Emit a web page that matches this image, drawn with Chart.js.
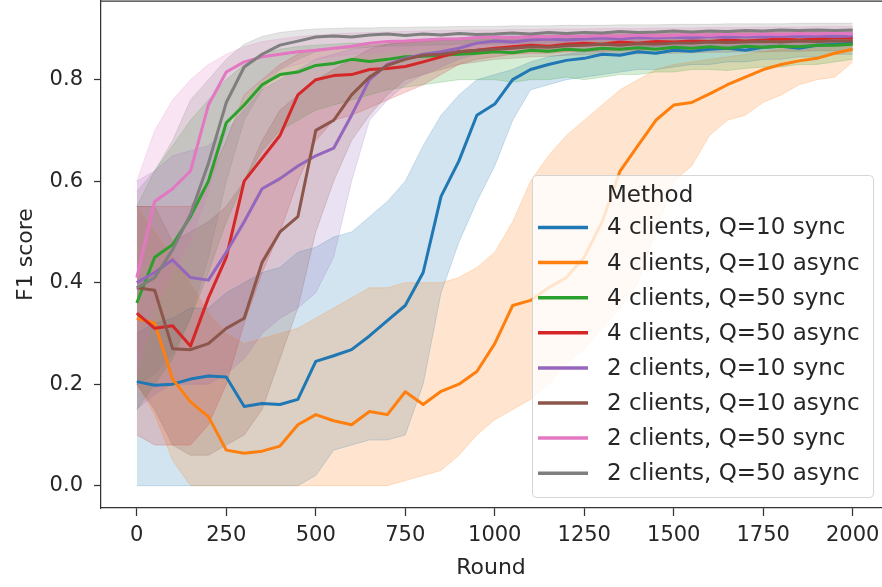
<!DOCTYPE html>
<html>
<head>
<meta charset="utf-8">
<script src="https://cdn.jsdelivr.net/npm/chart.js@4.4.1/dist/chart.umd.min.js"></script>
<style>
  html, body { margin: 0; padding: 0; background: #fff; overflow: hidden; }
  canvas { display: block; }
</style>
</head>
<body>
<canvas id="chart" width="882" height="587"></canvas>
<script>
// x positions (training round) of every sample
const rounds = [0, 50, 100, 150, 200, 250, 300, 350, 400, 450,
  500, 550, 600, 650, 700, 750, 800, 850, 900, 950,
  1000, 1050, 1100, 1150, 1200, 1250, 1300, 1350, 1400, 1450,
  1500, 1550, 1600, 1650, 1700, 1750, 1800, 1850, 1900, 1950,
  2000];

const xTicks = [0, 250, 500, 750, 1000, 1250, 1500, 1750, 2000];
const yTicks = [0.0, 0.2, 0.4, 0.6, 0.8];

const legendTitle = "Method";
const seriesNames = [
  "4 clients, Q=10 sync", "4 clients, Q=10 async",
  "4 clients, Q=50 sync", "4 clients, Q=50 async",
  "2 clients, Q=10 sync", "2 clients, Q=10 async",
  "2 clients, Q=50 sync", "2 clients, Q=50 async"
];

// 4 clients, Q=10 sync
const blueMean = [0.205, 0.198, 0.200, 0.210, 0.216, 0.214, 0.156, 0.162, 0.160, 0.170,
  0.245, 0.256, 0.268, 0.295, 0.325, 0.355, 0.420, 0.570, 0.640, 0.730,
  0.752, 0.800, 0.820, 0.830, 0.838, 0.842, 0.850, 0.848, 0.855, 0.852,
  0.858, 0.856, 0.860, 0.862, 0.858, 0.864, 0.866, 0.862, 0.868, 0.870, 0.872];
const blueLow = [0.000, 0.000, 0.000, 0.000, 0.000, 0.000, 0.000, 0.000, 0.000, 0.000,
  0.020, 0.070, 0.080, 0.090, 0.090, 0.100, 0.200, 0.380, 0.480, 0.560,
  0.630, 0.720, 0.780, 0.790, 0.800, 0.805, 0.810, 0.815, 0.820, 0.820,
  0.825, 0.830, 0.830, 0.835, 0.835, 0.840, 0.840, 0.845, 0.845, 0.850, 0.850];
const blueHigh = [0.300, 0.320, 0.330, 0.350, 0.350, 0.380, 0.400, 0.420, 0.430, 0.460,
  0.470, 0.490, 0.500, 0.530, 0.560, 0.600, 0.670, 0.730, 0.770, 0.800,
  0.810, 0.820, 0.835, 0.845, 0.850, 0.855, 0.860, 0.862, 0.865, 0.866,
  0.868, 0.870, 0.872, 0.874, 0.875, 0.876, 0.878, 0.879, 0.880, 0.882, 0.884];

// 4 clients, Q=10 async
const orangeMean = [0.330, 0.320, 0.210, 0.165, 0.136, 0.070, 0.064, 0.068, 0.078, 0.120,
  0.140, 0.128, 0.120, 0.146, 0.140, 0.185, 0.160, 0.186, 0.200, 0.225,
  0.280, 0.355, 0.365, 0.390, 0.410, 0.450, 0.520, 0.620, 0.670, 0.720,
  0.750, 0.755, 0.772, 0.790, 0.805, 0.820, 0.830, 0.837, 0.842, 0.852, 0.860];
const orangeLow = [0.200, 0.140, 0.050, 0.000, 0.000, 0.000, 0.000, 0.000, 0.000, 0.000,
  0.000, 0.000, 0.000, 0.000, 0.000, 0.010, 0.020, 0.030, 0.060, 0.100,
  0.130, 0.150, 0.170, 0.200, 0.240, 0.270, 0.310, 0.350, 0.400, 0.500,
  0.600, 0.630, 0.690, 0.720, 0.730, 0.755, 0.770, 0.790, 0.800, 0.805, 0.835];
const orangeHigh = [0.550, 0.500, 0.450, 0.400, 0.340, 0.300, 0.280, 0.290, 0.300, 0.310,
  0.330, 0.350, 0.370, 0.390, 0.390, 0.400, 0.400, 0.400, 0.410, 0.430,
  0.460, 0.520, 0.600, 0.650, 0.690, 0.720, 0.750, 0.780, 0.800, 0.820,
  0.830, 0.835, 0.840, 0.845, 0.850, 0.855, 0.860, 0.862, 0.865, 0.870, 0.875];

// 4 clients, Q=50 sync
const greenMean = [0.360, 0.450, 0.475, 0.530, 0.600, 0.715, 0.750, 0.790, 0.810, 0.815,
  0.828, 0.832, 0.840, 0.836, 0.840, 0.845, 0.846, 0.848, 0.850, 0.852,
  0.855, 0.853, 0.858, 0.856, 0.860, 0.858, 0.862, 0.860, 0.863, 0.860,
  0.864, 0.862, 0.865, 0.862, 0.866, 0.864, 0.866, 0.865, 0.868, 0.868, 0.870];
const greenLow = [0.150, 0.200, 0.250, 0.330, 0.420, 0.520, 0.600, 0.660, 0.700, 0.720,
  0.740, 0.750, 0.760, 0.770, 0.780, 0.785, 0.790, 0.795, 0.800, 0.800,
  0.800, 0.795, 0.800, 0.800, 0.805, 0.800, 0.805, 0.810, 0.810, 0.815,
  0.815, 0.820, 0.820, 0.818, 0.822, 0.825, 0.825, 0.830, 0.830, 0.835, 0.840];
const greenHigh = [0.550, 0.620, 0.670, 0.720, 0.760, 0.800, 0.830, 0.850, 0.860, 0.865,
  0.868, 0.870, 0.872, 0.872, 0.874, 0.875, 0.876, 0.877, 0.878, 0.878,
  0.880, 0.880, 0.881, 0.882, 0.882, 0.883, 0.883, 0.884, 0.884, 0.885,
  0.885, 0.886, 0.886, 0.887, 0.887, 0.888, 0.888, 0.888, 0.889, 0.889, 0.890];

// 4 clients, Q=50 async
const redMean = [0.340, 0.310, 0.315, 0.275, 0.370, 0.450, 0.600, 0.645, 0.690, 0.770,
  0.800, 0.808, 0.810, 0.820, 0.822, 0.826, 0.835, 0.845, 0.855, 0.858,
  0.862, 0.865, 0.868, 0.866, 0.870, 0.872, 0.870, 0.874, 0.872, 0.875,
  0.874, 0.876, 0.875, 0.878, 0.876, 0.878, 0.880, 0.878, 0.880, 0.882, 0.882];
const redLow = [0.100, 0.080, 0.080, 0.080, 0.120, 0.200, 0.320, 0.420, 0.500, 0.600,
  0.680, 0.720, 0.730, 0.745, 0.760, 0.775, 0.790, 0.810, 0.830, 0.840,
  0.845, 0.850, 0.852, 0.852, 0.855, 0.856, 0.856, 0.858, 0.858, 0.860,
  0.860, 0.861, 0.862, 0.862, 0.863, 0.864, 0.864, 0.865, 0.866, 0.866, 0.867];
const redHigh = [0.550, 0.550, 0.550, 0.550, 0.600, 0.680, 0.770, 0.800, 0.830, 0.850,
  0.860, 0.862, 0.865, 0.868, 0.870, 0.872, 0.875, 0.878, 0.880, 0.882,
  0.884, 0.885, 0.886, 0.887, 0.888, 0.888, 0.889, 0.890, 0.890, 0.891,
  0.891, 0.892, 0.892, 0.893, 0.893, 0.894, 0.894, 0.895, 0.895, 0.896, 0.896];

// 2 clients, Q=10 sync
const purpleMean = [0.400, 0.420, 0.445, 0.410, 0.405, 0.460, 0.520, 0.585, 0.605, 0.630,
  0.650, 0.665, 0.730, 0.800, 0.830, 0.842, 0.850, 0.855, 0.862, 0.872,
  0.876, 0.874, 0.878, 0.880, 0.878, 0.880, 0.882, 0.880, 0.883, 0.882,
  0.884, 0.882, 0.885, 0.883, 0.885, 0.884, 0.886, 0.885, 0.886, 0.885, 0.886];
const purpleLow = [0.150, 0.180, 0.200, 0.200, 0.200, 0.220, 0.250, 0.300, 0.330, 0.350,
  0.380, 0.450, 0.600, 0.720, 0.760, 0.790, 0.810, 0.825, 0.840, 0.850,
  0.855, 0.856, 0.858, 0.860, 0.860, 0.862, 0.863, 0.863, 0.865, 0.865,
  0.866, 0.866, 0.867, 0.867, 0.868, 0.868, 0.869, 0.869, 0.870, 0.870, 0.870];
const purpleHigh = [0.600, 0.620, 0.650, 0.660, 0.670, 0.700, 0.740, 0.780, 0.800, 0.820,
  0.840, 0.850, 0.860, 0.865, 0.870, 0.874, 0.877, 0.880, 0.882, 0.885,
  0.887, 0.888, 0.889, 0.890, 0.890, 0.891, 0.892, 0.892, 0.893, 0.893,
  0.894, 0.894, 0.895, 0.895, 0.896, 0.896, 0.897, 0.897, 0.898, 0.898, 0.898];

// 2 clients, Q=10 async
const brownMean = [0.390, 0.385, 0.270, 0.268, 0.280, 0.310, 0.330, 0.440, 0.500, 0.530,
  0.700, 0.720, 0.770, 0.805, 0.828, 0.840, 0.848, 0.850, 0.855, 0.858,
  0.860, 0.862, 0.865, 0.864, 0.867, 0.868, 0.870, 0.868, 0.871, 0.870,
  0.872, 0.872, 0.874, 0.873, 0.874, 0.875, 0.874, 0.876, 0.875, 0.876, 0.876];
const brownLow = [0.200, 0.150, 0.080, 0.060, 0.060, 0.080, 0.100, 0.150, 0.250, 0.350,
  0.500, 0.600, 0.680, 0.730, 0.770, 0.800, 0.810, 0.820, 0.830, 0.835,
  0.840, 0.842, 0.845, 0.846, 0.848, 0.849, 0.850, 0.850, 0.851, 0.852,
  0.852, 0.853, 0.854, 0.854, 0.855, 0.855, 0.856, 0.856, 0.857, 0.857, 0.858];
const brownHigh = [0.550, 0.550, 0.480, 0.500, 0.520, 0.550, 0.600, 0.680, 0.740, 0.770,
  0.800, 0.820, 0.840, 0.860, 0.870, 0.875, 0.878, 0.880, 0.882, 0.883,
  0.884, 0.885, 0.886, 0.886, 0.887, 0.887, 0.888, 0.888, 0.889, 0.889,
  0.890, 0.890, 0.890, 0.891, 0.891, 0.892, 0.892, 0.892, 0.893, 0.893, 0.893];

// 2 clients, Q=50 sync
const pinkMean = [0.410, 0.560, 0.585, 0.620, 0.750, 0.815, 0.835, 0.845, 0.850, 0.855,
  0.858, 0.862, 0.866, 0.872, 0.875, 0.876, 0.878, 0.880, 0.880, 0.883,
  0.884, 0.882, 0.885, 0.884, 0.886, 0.885, 0.887, 0.885, 0.888, 0.886,
  0.887, 0.889, 0.887, 0.890, 0.888, 0.890, 0.889, 0.891, 0.890, 0.892, 0.890];
const pinkLow = [0.220, 0.350, 0.420, 0.480, 0.580, 0.700, 0.770, 0.800, 0.820, 0.830,
  0.840, 0.845, 0.850, 0.852, 0.855, 0.857, 0.860, 0.861, 0.862, 0.863,
  0.864, 0.865, 0.866, 0.866, 0.867, 0.868, 0.868, 0.869, 0.869, 0.870,
  0.870, 0.871, 0.871, 0.872, 0.872, 0.873, 0.873, 0.874, 0.874, 0.875, 0.875];
const pinkHigh = [0.600, 0.700, 0.760, 0.800, 0.830, 0.850, 0.865, 0.875, 0.880, 0.885,
  0.888, 0.890, 0.892, 0.893, 0.894, 0.895, 0.896, 0.897, 0.897, 0.898,
  0.898, 0.899, 0.899, 0.900, 0.900, 0.900, 0.901, 0.901, 0.901, 0.902,
  0.902, 0.902, 0.903, 0.903, 0.903, 0.904, 0.904, 0.904, 0.905, 0.905, 0.905];

// 2 clients, Q=50 async
const grayMean = [0.390, 0.410, 0.465, 0.535, 0.635, 0.755, 0.825, 0.850, 0.868, 0.876,
  0.884, 0.886, 0.884, 0.888, 0.890, 0.887, 0.890, 0.888, 0.891, 0.889,
  0.890, 0.892, 0.890, 0.893, 0.891, 0.893, 0.892, 0.895, 0.893, 0.894,
  0.896, 0.894, 0.896, 0.895, 0.897, 0.896, 0.898, 0.897, 0.898, 0.897, 0.898];
const grayLow = [0.200, 0.220, 0.260, 0.330, 0.450, 0.600, 0.720, 0.780, 0.820, 0.840,
  0.855, 0.860, 0.862, 0.864, 0.866, 0.866, 0.868, 0.868, 0.870, 0.870,
  0.870, 0.871, 0.871, 0.872, 0.872, 0.873, 0.873, 0.874, 0.874, 0.874,
  0.875, 0.875, 0.876, 0.876, 0.876, 0.877, 0.877, 0.878, 0.878, 0.878, 0.878];
const grayHigh = [0.580, 0.620, 0.680, 0.760, 0.800, 0.840, 0.870, 0.885, 0.893, 0.897,
  0.900, 0.901, 0.902, 0.902, 0.903, 0.903, 0.904, 0.904, 0.905, 0.905,
  0.905, 0.906, 0.906, 0.906, 0.907, 0.907, 0.907, 0.908, 0.908, 0.908,
  0.909, 0.909, 0.909, 0.910, 0.910, 0.910, 0.910, 0.911, 0.911, 0.911, 0.911];

const seriesColors = [
  [31, 119, 180], [255, 127, 14], [44, 160, 44], [214, 39, 40],
  [148, 103, 189], [140, 86, 75], [227, 119, 194], [127, 127, 127]
];
const seriesMeans = [blueMean, orangeMean, greenMean, redMean, purpleMean, brownMean, pinkMean, grayMean];
const seriesLows = [blueLow, orangeLow, greenLow, redLow, purpleLow, brownLow, pinkLow, grayLow];
const seriesHighs = [blueHigh, orangeHigh, greenHigh, redHigh, purpleHigh, brownHigh, pinkHigh, grayHigh];

const TEXT = "#262626";
const SPINE = "#333333";
const FONT = "DejaVu Sans";

function rgba(c, a) {
  return `rgba(${c[0]},${c[1]},${c[2]},${a})`;
}

function toPoints(values) {
  return values.map((v, i) => ({ x: rounds[i], y: v }));
}

function buildDatasets() {
  const sets = [];
  // confidence bands: upper edge fills down to the lower edge that follows it
  seriesNames.forEach((name, i) => {
    const c = seriesColors[i];
    sets.push({
      label: name + " upper",
      data: toPoints(seriesHighs[i]),
      fill: "+1",
      backgroundColor: rgba(c, 0.2),
      borderColor: rgba(c, 0.2),
      borderWidth: 1,
      pointRadius: 0,
      order: 100 - i
    });
    sets.push({
      label: name + " lower",
      data: toPoints(seriesLows[i]),
      fill: false,
      borderColor: rgba(c, 0.2),
      borderWidth: 1,
      pointRadius: 0,
      order: 100 - i
    });
  });
  // mean lines, last series on top
  seriesNames.forEach((name, i) => {
    sets.push({
      label: name,
      data: toPoints(seriesMeans[i]),
      fill: false,
      borderColor: rgba(seriesColors[i], 1),
      borderWidth: 3,
      borderJoinStyle: "round",
      pointRadius: 0,
      order: 20 - i
    });
  });
  return sets;
}

// top spine (the right one falls outside the picture) + legend box
const framePlugin = {
  id: "frame",
  afterDraw(chart) {
    const ctx = chart.ctx;
    const a = chart.chartArea;
    ctx.save();
    // keep the right edge of the plot open like the cropped original
    ctx.fillStyle = "#ffffff";
    ctx.fillRect(a.right - 4, a.top + 1, chart.width - a.right + 4, a.bottom - a.top - 2);

    ctx.strokeStyle = SPINE;
    ctx.lineWidth = 1.25;
    ctx.beginPath();
    ctx.moveTo(a.left, a.top);
    ctx.lineTo(chart.width, a.top);
    ctx.stroke();

    const bx = 532.5, by = 175.5, bw = 341, bh = 322;
    ctx.beginPath();
    ctx.roundRect(bx, by, bw, bh, 4);
    ctx.fillStyle = "rgba(255,255,255,0.8)";
    ctx.fill();
    ctx.strokeStyle = "rgba(204,204,204,0.8)";
    ctx.lineWidth = 1;
    ctx.stroke();

    ctx.font = `23px "${FONT}"`;
    ctx.textBaseline = "middle";
    ctx.textAlign = "left";
    ctx.fillStyle = TEXT;
    ctx.fillText(legendTitle, 607, 196);
    seriesNames.forEach((name, i) => {
      const y = 227.5 + i * 35.1;
      ctx.strokeStyle = rgba(seriesColors[i], 1);
      ctx.lineWidth = 3.5;
      ctx.beginPath();
      ctx.moveTo(538, y);
      ctx.lineTo(588, y);
      ctx.stroke();
      ctx.fillStyle = TEXT;
      ctx.fillText(name, 607, y + 1);
    });
    ctx.restore();
  }
};

function init() {
  const ctx = document.getElementById("chart").getContext("2d");
  new Chart(ctx, {
    type: "line",
    data: { datasets: buildDatasets() },
    options: {
      responsive: false,
      animation: false,
      devicePixelRatio: 1,
      layout: { padding: { left: 0, top: 1, right: 1, bottom: 0 } },
      plugins: {
        legend: { display: false },
        tooltip: { enabled: false },
        filler: { drawTime: "beforeDatasetsDraw" }
      },
      scales: {
        x: {
          type: "linear",
          min: -100,
          max: 2079,
          afterBuildTicks: s => { s.ticks = xTicks.map(v => ({ value: v })); },
          afterFit: s => { s.height = 79; s.paddingLeft = 0; s.paddingRight = 0; },
          ticks: {
            autoSkip: false, maxRotation: 0, padding: 7,
            color: TEXT, font: { family: FONT, size: 21 },
            callback: v => String(v)
          },
          grid: { drawOnChartArea: false, drawTicks: true, tickLength: 8, tickColor: SPINE, tickWidth: 1.25 },
          border: { display: true, color: SPINE, width: 1.25 },
          title: { display: true, text: "Round", color: TEXT, font: { family: FONT, size: 22 }, padding: { top: 0, bottom: 6 } }
        },
        y: {
          type: "linear",
          min: -0.044,
          max: 0.955,
          afterBuildTicks: s => { s.ticks = yTicks.map(v => ({ value: v })); },
          afterFit: s => { s.width = 101; s.paddingTop = 0; s.paddingBottom = 0; },
          ticks: {
            autoSkip: false, padding: 11,
            color: TEXT, font: { family: FONT, size: 21 },
            callback: v => v.toFixed(1)
          },
          grid: { drawOnChartArea: false, drawTicks: true, tickLength: 7, tickColor: SPINE, tickWidth: 1.25 },
          border: { display: true, color: SPINE, width: 1.25 },
          title: { display: true, text: "F1 score", color: TEXT, font: { family: FONT, size: 22 }, padding: { top: 13, bottom: 0 } }
        }
      }
    },
    plugins: [framePlugin]
  });
}

init();
</script>
</body>
</html>
